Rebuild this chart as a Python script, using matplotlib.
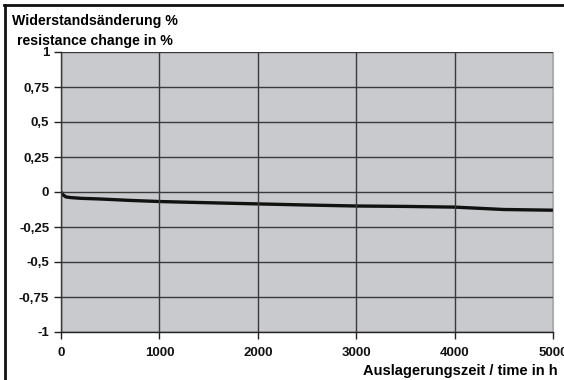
import matplotlib
matplotlib.use("Agg")
import matplotlib.pyplot as plt
from matplotlib.ticker import FuncFormatter

time_h = [0, 20, 50, 100, 200, 400, 700, 1000, 1400, 2000, 2500, 3000, 3500, 4000, 4500, 5000]
change_pct = [0, -0.02, -0.035, -0.04, -0.045, -0.05, -0.06, -0.068, -0.075, -0.085, -0.093, -0.10, -0.103, -0.108, -0.125, -0.13]

y_ticks = [1, 0.75, 0.5, 0.25, 0, -0.25, -0.5, -0.75, -1]
x_ticks = [0, 1000, 2000, 3000, 4000, 5000]

plt.rcParams['font.family'] = ['Liberation Sans', 'DejaVu Sans']
plt.rcParams['font.weight'] = 'bold'

FS = 9.5

fig = plt.figure(figsize=(5.64, 3.8), dpi=100)
ax = fig.add_axes([61/564, 48/380, (553-61)/564, (332-52)/380])
ax.set_facecolor('#c9cacd')

ax.plot(time_h, change_pct, color='#111111', lw=2.4, solid_capstyle='butt')

ax.set_xlim(0, 5000)
ax.set_ylim(-1, 1)
ax.set_xticks(x_ticks)
ax.set_yticks(y_ticks)
ax.yaxis.set_major_formatter(FuncFormatter(lambda v, p: ('%g' % v).replace('.', ',')))
ax.grid(True, color='#3a3a3a', lw=1.0)
ax.set_axisbelow(False)
for s in ['top', 'right']:
    ax.spines[s].set_color('#b0b0b0')
    ax.spines[s].set_linewidth(0.8)
for s in ['left', 'bottom']:
    ax.spines[s].set_color('#222222')
    ax.spines[s].set_linewidth(1.0)
ax.tick_params(axis='both', direction='out', length=5, width=1, colors='#222222', labelsize=FS, labelcolor='#111111')
ax.tick_params(axis='y', pad=3.5)
ax.tick_params(axis='x', pad=6)

fig.text(12/564, 1 - 25/380, 'Widerstandsänderung %', fontsize=10.2, fontweight='bold', ha='left', va='baseline')
fig.text(17/564, 1 - 45/380, 'resistance change in %', fontsize=10.2, fontweight='bold', ha='left', va='baseline')
fig.text(558/564, 1 - 375/380, 'Auslagerungszeit / time in h', fontsize=10.5, fontweight='bold', ha='right', va='baseline')

# outer frame (top and left visible)
fig.add_artist(plt.Line2D([4/564, 1], [1 - 5/380, 1 - 5/380], transform=fig.transFigure, color='#111111', lw=2))
fig.add_artist(plt.Line2D([5/564, 5/564], [0, 1 - 5/380], transform=fig.transFigure, color='#111111', lw=2))

fig.savefig('out.png', dpi=100)
